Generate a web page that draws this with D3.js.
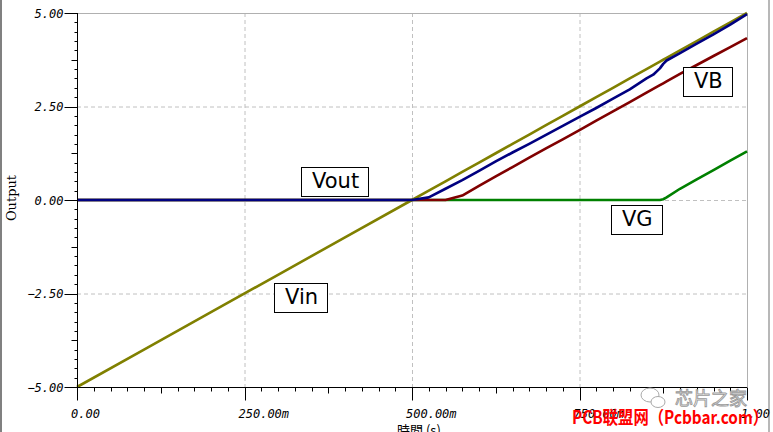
<!DOCTYPE html>
<html><head><meta charset="utf-8">
<script src="https://cdn.jsdelivr.net/npm/d3@7"></script>
<style>body{margin:0;background:#fff;}svg{display:block;}</style>
</head><body>
<svg id="chart" width="773" height="432"></svg>
<script>
// ---- data ----
const time = [0, 0.1, 0.2, 0.3, 0.4, 0.5, 0.525, 0.55, 0.575, 0.6, 0.625, 0.65, 0.675, 0.7, 0.725, 0.75, 0.775, 0.8, 0.825, 0.85, 0.86, 0.87, 0.875, 0.88, 0.9, 0.925, 0.95, 0.975, 1.0];
const vin  = [-5, -4, -3, -2, -1, 0, 0.25, 0.5, 0.75, 1, 1.25, 1.5, 1.75, 2, 2.25, 2.5, 2.75, 3, 3.25, 3.5, 3.6, 3.7, 3.75, 3.8, 4, 4.25, 4.5, 4.75, 5];
const vout = [0, 0, 0, 0, 0, 0, 0.07, 0.3, 0.53, 0.78, 1.03, 1.27, 1.5, 1.74, 1.98, 2.22, 2.46, 2.71, 2.96, 3.25, 3.35, 3.52, 3.64, 3.73, 3.93, 4.18, 4.43, 4.69, 4.97];
const vb   = [0, 0, 0, 0, 0, 0, 0, 0, 0.12, 0.38, 0.63, 0.88, 1.13, 1.38, 1.62, 1.87, 2.12, 2.37, 2.62, 2.87, 2.97, 3.07, 3.12, 3.17, 3.37, 3.61, 3.85, 4.09, 4.33];
const vg   = [0, 0, 0, 0, 0, 0, 0, 0, 0, 0, 0, 0, 0, 0, 0, 0, 0, 0, 0, 0, 0, 0, 0.02, 0.07, 0.3, 0.55, 0.8, 1.05, 1.3];
const yTickValues = [-5, -2.5, 0, 2.5, 5];
const yTickLabels = ["\u22125.00", "\u22122.50", "0.00", "2.50", "5.00"];
const xTickValues = [0, 0.25, 0.5, 0.75, 1];
const xTickLabels = ["0.00", "250.00m", "500.00m", "750.00m", "1.00"];
const labels = ["Vout", "Vin", "VB", "VG"];
const labelT = [0.334, 0.294, 0.904, 0.797];
const labelV = [0.88, -2.22, 3.56, -0.13];
const yTitle = "Output";
const xTitle = "時間 (s)";

const series = [
  {values: vg, color: "#008000"},
  {values: vb, color: "#800000"},
  {values: vin, color: "#808000"},
  {values: vout, color: "#000080"}
];

// ---- layout ----
const svg = d3.select("#chart");
const x = d3.scaleLinear().domain([0, 1]).range([77, 747]);
const y = d3.scaleLinear().domain([-5, 5]).range([387, 13]);

// window edges
svg.append("rect").attr("x", 0).attr("y", 0).attr("width", 2).attr("height", 432).attr("fill", "#808080");
svg.append("rect").attr("x", 768).attr("y", 0).attr("width", 2).attr("height", 432).attr("fill", "#b8b8b8");

// grid
const grid = svg.append("g");
[0.25, 0.5, 0.75].forEach(t => grid.append("line")
  .attr("x1", x(t) + 0.5).attr("x2", x(t) + 0.5).attr("y1", y(5)).attr("y2", y(-5))
  .attr("stroke", "#c0c0c0").attr("stroke-dasharray", "4,3"));
[-2.5, 0, 2.5].forEach(v => grid.append("line")
  .attr("x1", x(0)).attr("x2", x(1)).attr("y1", y(v) + 0.5).attr("y2", y(v) + 0.5)
  .attr("stroke", "#c0c0c0").attr("stroke-dasharray", "4,3"));
// frame top/right
grid.append("line").attr("x1", x(0)).attr("x2", x(1)).attr("y1", y(5) + 0.5).attr("y2", y(5) + 0.5).attr("stroke", "#b0b0b0");
grid.append("line").attr("x1", x(1) + 0.5).attr("x2", x(1) + 0.5).attr("y1", y(5)).attr("y2", y(-5)).attr("stroke", "#b0b0b0");

// lines
const line = d3.line().x((d, i) => x(time[i])).y(d => y(d));
series.forEach(s => svg.append("path").datum(s.values)
  .attr("d", line).attr("fill", "none").attr("stroke", s.color)
  .attr("stroke-width", 2.6).attr("stroke-linejoin", "round"));

// y axis
const yMinor = d3.range(-5, 5.001, 0.25);
const yAx = svg.append("g").attr("transform", `translate(${x(0) + 0.5},0)`);
yAx.append("line").attr("y1", y(-5)).attr("y2", y(5)).attr("stroke", "#000");
yMinor.forEach(v => {
  const isMajor = Math.abs(v / 2.5 - Math.round(v / 2.5)) < 1e-6;
  const isMid = !isMajor && Math.abs(v / 1.25 - Math.round(v / 1.25)) < 1e-6;
  const len = isMajor ? 13 : (isMid ? 6 : 3);
  yAx.append("line").attr("x1", -len).attr("x2", 0)
    .attr("y1", Math.round(y(v)) + 0.5).attr("y2", Math.round(y(v)) + 0.5).attr("stroke", "#000");
});
yAx.selectAll("text.yl").data(yTickValues).enter().append("text")
  .attr("x", -14).attr("y", d => y(d) + 4.5)
  .attr("text-anchor", "end")
  .attr("font-family", "DejaVu Sans Mono").attr("font-style", "italic").attr("font-size", 12)
  .text((d, i) => yTickLabels[i]);

// x axis
const xMinor = d3.range(0, 1.0001, 0.025);
const xAx = svg.append("g").attr("transform", `translate(0,${y(-5) + 0.5})`);
xAx.append("line").attr("x1", x(0)).attr("x2", x(1)).attr("stroke", "#000");
xMinor.forEach(t => {
  const isMajor = Math.abs(t / 0.25 - Math.round(t / 0.25)) < 1e-6;
  const isMid = !isMajor && Math.abs(t / 0.125 - Math.round(t / 0.125)) < 1e-6;
  const len = isMajor ? 13 : (isMid ? 6 : 4);
  xAx.append("line").attr("x1", Math.round(x(t)) + 0.5).attr("x2", Math.round(x(t)) + 0.5)
    .attr("y1", 0).attr("y2", len).attr("stroke", "#000");
});
xAx.selectAll("text.xl").data(xTickValues).enter().append("text")
  .attr("x", d => x(d) - 6).attr("y", 30)
  .attr("text-anchor", "start")
  .attr("font-family", "DejaVu Sans Mono").attr("font-style", "italic").attr("font-size", 12)
  .text((d, i) => xTickLabels[i]);

// axis titles
svg.append("text").attr("transform", "translate(16,198) rotate(-90)")
  .attr("text-anchor", "middle").attr("font-family", "DejaVu Serif").attr("font-size", 13)
  .text(yTitle);
svg.append("text").attr("x", 397).attr("y", 435)
  .attr("font-family", "Noto Sans CJK JP").attr("font-size", 13).text(xTitle);

// label boxes
labels.forEach((lab, i) => {
  const g = svg.append("g").attr("transform", `translate(${Math.round(x(labelT[i]))},${Math.round(y(labelV[i]))})`);
  const rect = g.append("rect").attr("fill", "#fff").attr("stroke", "#000");
  const t = g.append("text").attr("x", 11).attr("y", 21)
    .attr("font-family", "DejaVu Sans").attr("font-size", 21).attr("fill", "#000").text(lab);
  const w = t.node().getComputedTextLength();
  rect.attr("x", 0.5).attr("y", 0.5).attr("width", Math.round(w + 20)).attr("height", 29);
});

// watermarks
const wm = svg.append("g");
wm.append("ellipse").attr("cx", 650).attr("cy", 395).attr("rx", 9).attr("ry", 7).attr("fill", "#fff").attr("stroke", "#aaa");
wm.append("ellipse").attr("cx", 658).attr("cy", 402).attr("rx", 7).attr("ry", 5.5).attr("fill", "#fff").attr("stroke", "#aaa");
wm.append("text").attr("x", 675).attr("y", 405).attr("font-family", "Noto Sans CJK SC").attr("font-size", 18)
  .attr("fill", "#fff").attr("stroke", "#999").attr("stroke-width", 0.9).text("芯片之家");
wm.append("text").attr("x", 572).attr("y", 424).attr("font-family", "Noto Sans CJK SC").attr("font-weight", "bold")
  .attr("font-size", 18).attr("fill", "#ff0000").attr("textLength", 196).attr("lengthAdjust", "spacingAndGlyphs")
  .text("PCB联盟网（Pcbbar.com）");
</script>
</body></html>
